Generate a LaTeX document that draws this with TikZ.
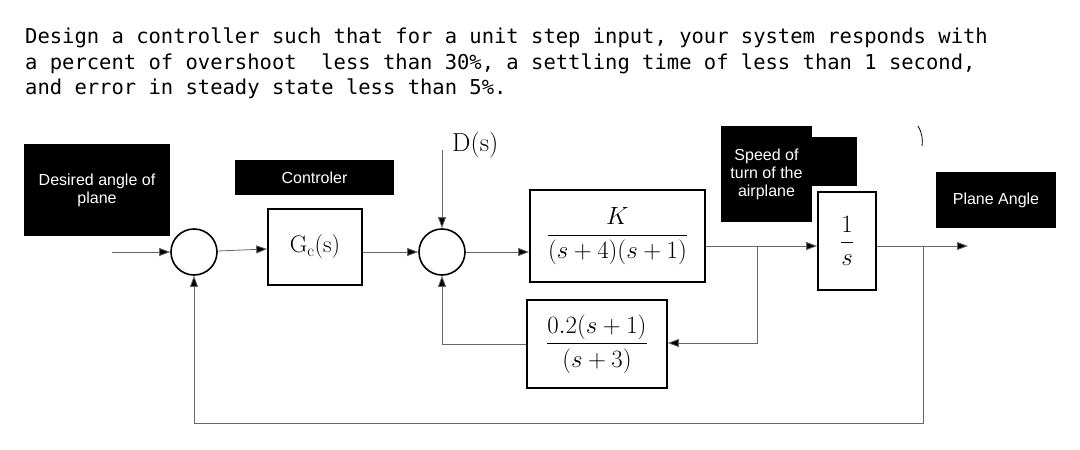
\documentclass[tikz,border=0pt]{standalone}
\usepackage{amsmath}
\usepackage{fontspec}
\setmonofont{DejaVu Sans Mono}
\setsansfont{Liberation Sans}
\usetikzlibrary{arrows.meta}
\begin{document}
\begin{tikzpicture}[x=1pt,y=-1pt,
  blk/.style={draw,line width=1.6pt,inner sep=0pt},
  sum/.style={draw,circle,line width=1.6pt,minimum size=46pt,inner sep=0pt},
  lab/.style={fill=black,text=white,font=\sffamily\fontsize{16}{18}\selectfont,align=center,inner sep=0pt},
  ln/.style={draw=black!60,line width=0.8pt},
  ar/.style={ln,-{Triangle[length=11pt,width=8pt,fill=black]}}]
\useasboundingbox (0,0) rectangle (1080,450);
\fill[white] (0,0) rectangle (1080,450);
\node[anchor=north west,align=left,font=\ttfamily\fontsize{20.5}{25.5}\selectfont,inner sep=0pt] (txt) at (25,28)
 {Design a controller such that for a unit step input, your system responds with\\
  a percent of overshoot \ less than 30\%, a settling time of less than 1 second,\\
  and error in steady state less than 5\%.};
% labels
\node[lab,minimum width=146pt,minimum height=92pt] (lin) at (97,190) {Desired angle of\\plane};
\node[lab,minimum width=159pt,minimum height=35pt] (lc) at (314.5,177.5) {Controler};
\fill (812,137) rectangle (857,186);
\node[lab,minimum width=91pt,minimum height=96pt] (ls) at (766.5,174) {Speed of\\turn of the\\airplane};
\node[lab,minimum width=120pt,minimum height=56pt] (lp) at (996,200) {Plane Angle};
\draw[line width=0.8pt] (918,126) .. controls (922,132) and (923,140) .. (922,146);
% blocks
\node[sum] (s1) at (194,252) {};
\node[sum] (s2) at (442,252) {};
\node[blk,minimum width=94pt,minimum height=76pt,font=\fontsize{24}{26}\selectfont] (gc) at (315,247) {G$_{\mathrm c}$(s)};
\node[blk,minimum width=175pt,minimum height=92pt,font=\fontsize{24}{26}\selectfont] (gp) at (617.5,236) {$\dfrac{K}{(s+4)(s+1)}$};
\node[blk,minimum width=58pt,minimum height=98pt,font=\fontsize{24}{26}\selectfont] (int) at (847,241) {$\dfrac{1}{s}$};
\node[blk,minimum width=140pt,minimum height=88pt,font=\fontsize{24}{26}\selectfont] (h) at (597,344) {$\dfrac{0.2(s+1)}{(s+3)}$};
\node[font=\fontsize{26}{28}\selectfont,anchor=west,inner sep=0pt] (D) at (452,145) {D(s)};
\coordinate (in) at (112,252);
\coordinate (dtop) at (442,150);
\coordinate (b1) at (757,246);
\coordinate (b1d) at (757,343);
\coordinate (b2) at (923,246);
\coordinate (b2d) at (923,423);
\coordinate (out) at (968,246);
% connectors
\draw[ar] (in) -- (s1);
\draw[ar] (s1) -- (gc);
\draw[ar] (gc.east |- s2) -- (s2);
\draw[ar] (dtop) -- (s2);
\draw[ar] (s2) -- (gp.west |- s2);
\draw[ar] (gp.east |- b1) -- (int.west |- b1);
\draw[ar] (b1) -- (b1d) -- (h.east |- b1d);
\draw[ar] (h.west) -| (s2.south);
\draw[ar] (int.east |- b2) -- (out);
\draw[ar] (b2) -- (b2d) -| (s1.south);
\end{tikzpicture}
\end{document}
